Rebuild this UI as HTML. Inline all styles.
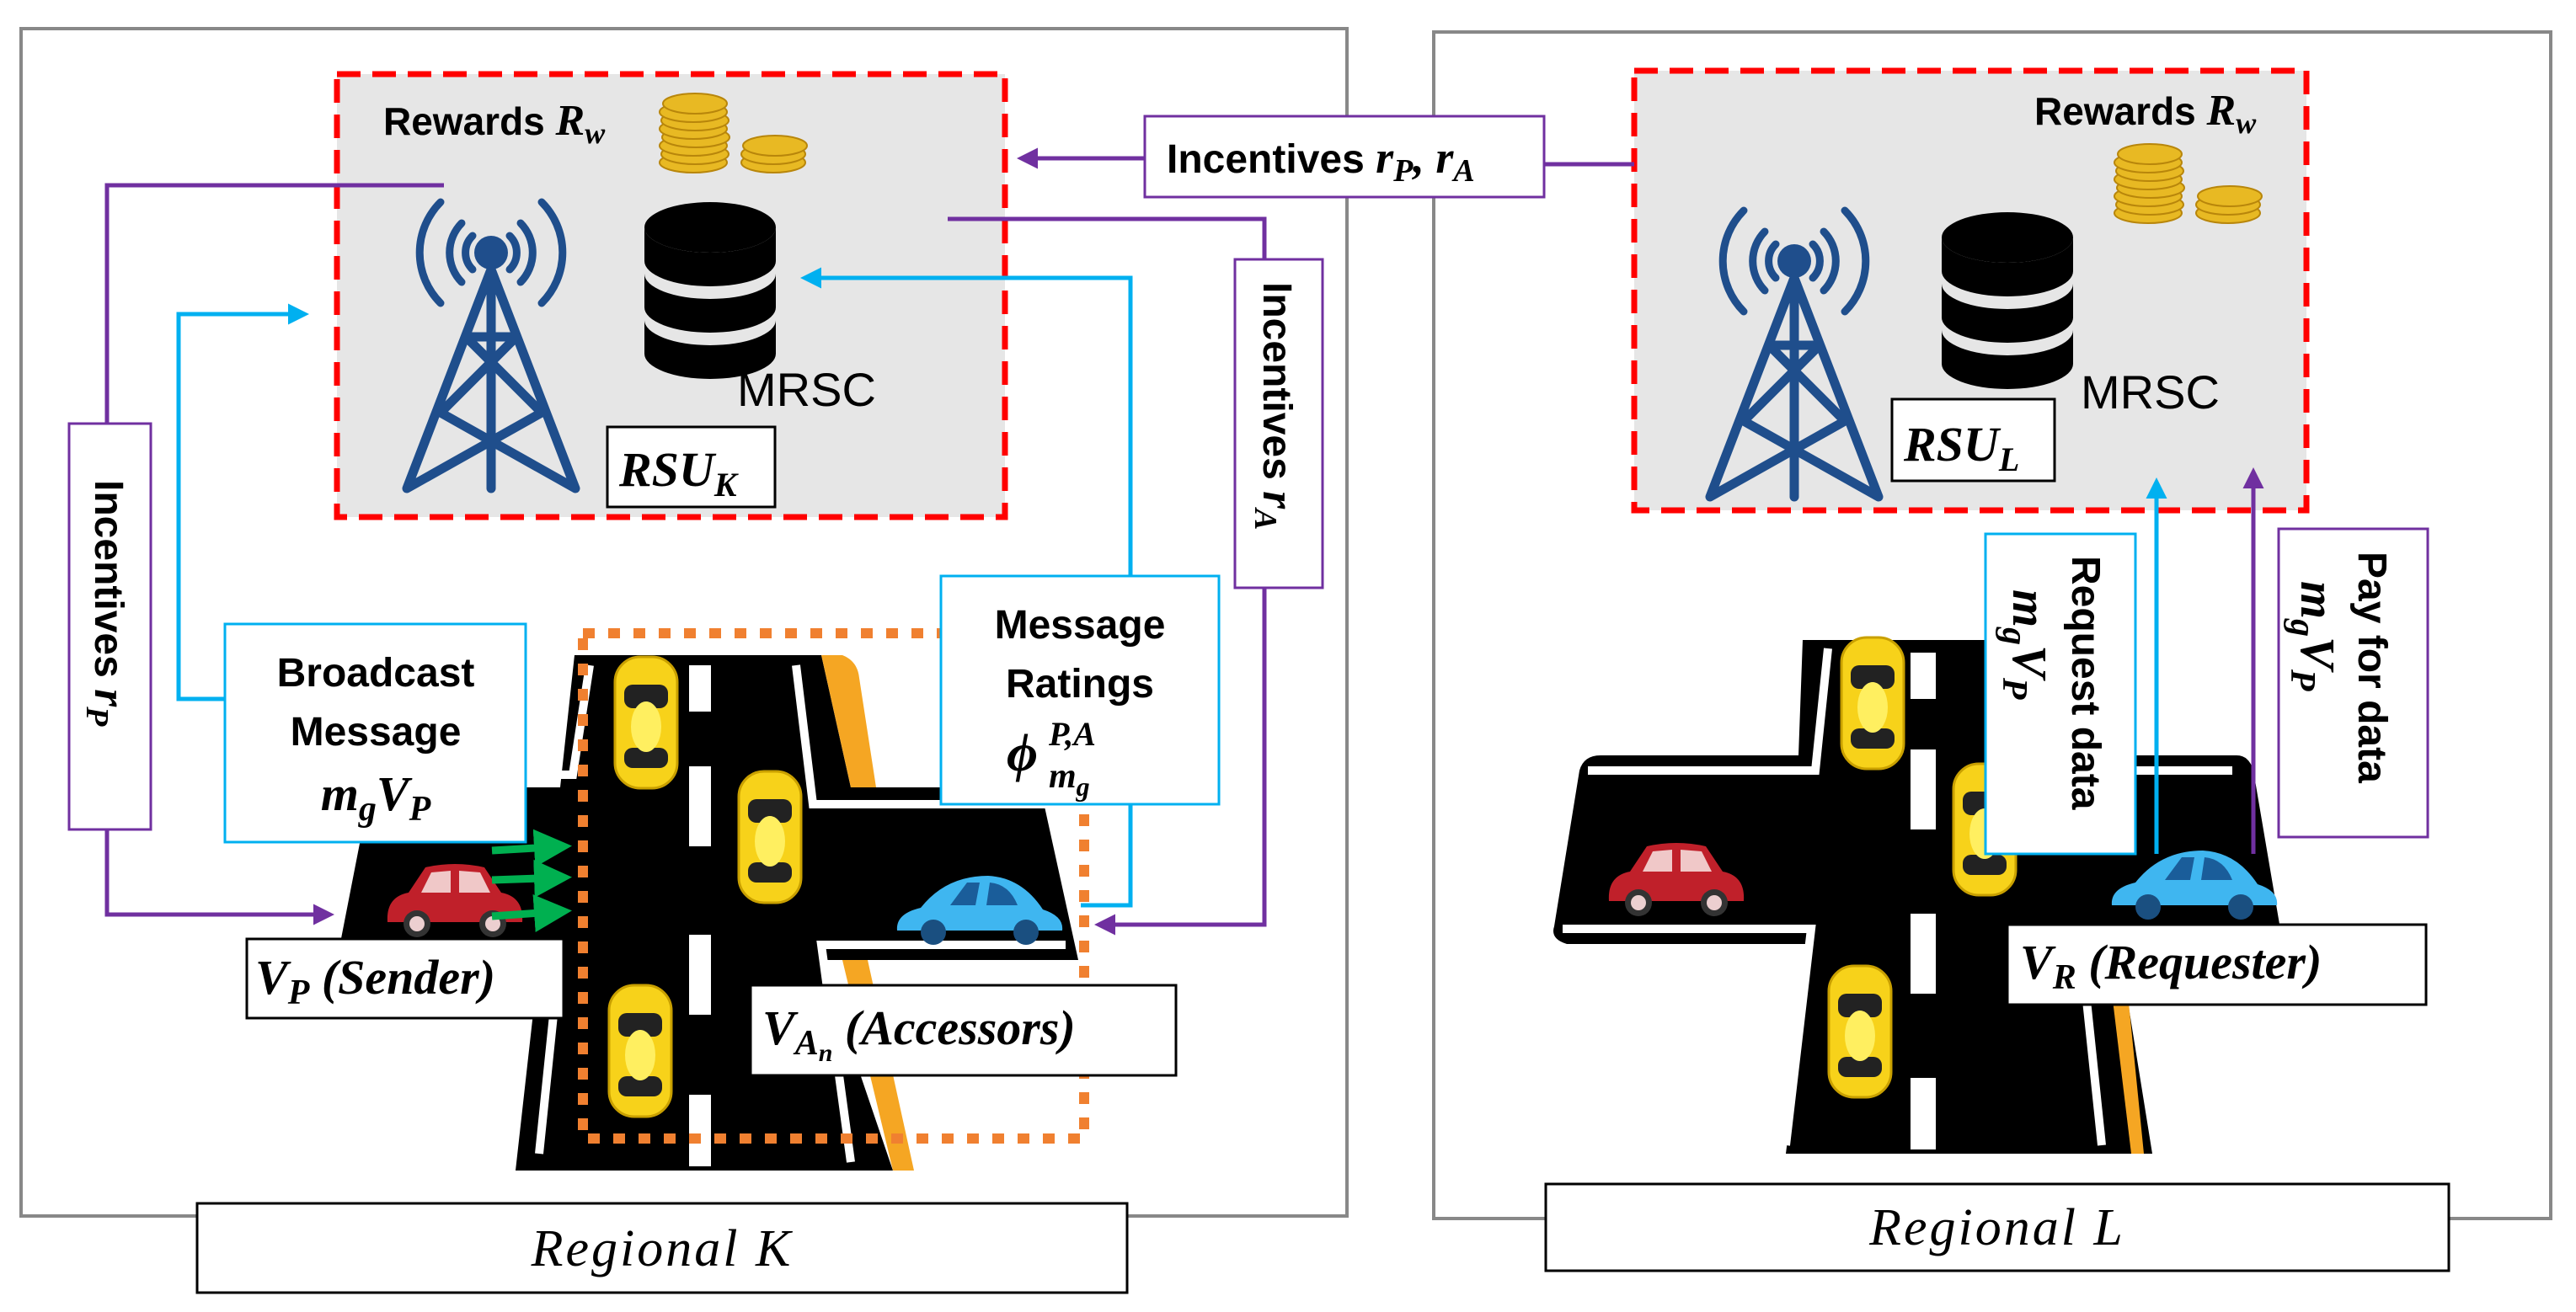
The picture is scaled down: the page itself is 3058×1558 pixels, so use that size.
<!DOCTYPE html>
<html><head><meta charset="utf-8"><style>
html,body{margin:0;padding:0;background:#fff}
svg{display:block}
.b{font-family:"Liberation Sans",sans-serif;font-weight:bold;fill:#000}
.m{font-family:"Liberation Serif",serif;font-weight:bold;font-style:italic;fill:#000}
.r{font-family:"Liberation Serif",serif;font-style:italic;fill:#000}
</style></head><body>
<svg width="3058" height="1558" viewBox="0 0 3058 1558" xmlns="http://www.w3.org/2000/svg">
<defs>
<marker id="ap" markerWidth="5" markerHeight="5" refX="4" refY="2.5" orient="auto" markerUnits="strokeWidth"><path d="M0,0 L5,2.5 L0,5 z" fill="#7030a0"/></marker>
<marker id="ab" markerWidth="5" markerHeight="5" refX="4" refY="2.5" orient="auto" markerUnits="strokeWidth"><path d="M0,0 L5,2.5 L0,5 z" fill="#00b0f0"/></marker>
<marker id="ag" markerWidth="5" markerHeight="5" refX="4" refY="2.5" orient="auto" markerUnits="strokeWidth"><path d="M0,0 L5,2.5 L0,5 z" fill="#00b050"/></marker>
<g id="tower" fill="none" stroke="#1f4e8c" stroke-width="11" stroke-linecap="round">
<circle cx="0" cy="0" r="20" fill="#1f4e8c" stroke="none"/>
<path d="M-35,-35 A50,50 0 0 0 -35,35 M35,-35 A50,50 0 0 1 35,35 M-60,-60 A85,85 0 0 0 -60,60 M60,-60 A85,85 0 0 1 60,60 M-22,-20 A28,28 0 0 0 -22,20 M22,-20 A28,28 0 0 1 22,20" stroke-width="9"/>
<path d="M0,20 L-100,280 M0,20 L100,280 M0,20 L0,280 M-30,100 L30,100 M-30,100 L60,190 M30,100 L-60,190 M-60,190 L100,280 M60,190 L-100,280"/>
</g>
<g id="db"><ellipse cx="0" cy="0" rx="78" ry="30" fill="#000"/><path d="M-78,0 v40 a78,30 0 0 0 156,0 v-40 a78,30 0 0 1 -156,0z" fill="#000"/>
<path d="M-78,55 v40 a78,30 0 0 0 156,0 v-40 a78,30 0 0 1 -156,0z" fill="#000"/><path d="M-78,110 v40 a78,30 0 0 0 156,0 v-40 a78,30 0 0 1 -156,0z" fill="#000"/></g>
<g id="coins">
<g fill="#e8b923" stroke="#b8860b" stroke-width="2">
<ellipse cx="0" cy="85" rx="40" ry="12"/><ellipse cx="2" cy="75" rx="40" ry="12"/><ellipse cx="0" cy="65" rx="40" ry="12"/><ellipse cx="3" cy="55" rx="40" ry="12"/><ellipse cx="0" cy="45" rx="40" ry="12"/><ellipse cx="2" cy="35" rx="40" ry="12"/><ellipse cx="0" cy="25" rx="40" ry="12"/><ellipse cx="2" cy="15" rx="38" ry="12"/>
<ellipse cx="95" cy="85" rx="38" ry="12"/><ellipse cx="95" cy="75" rx="38" ry="12"/><ellipse cx="97" cy="65" rx="38" ry="12"/></g></g>
<g id="ycar"><rect x="-37" y="-78" width="74" height="156" rx="30" fill="#f7d21a" stroke="#c9a000" stroke-width="3"/><rect x="-26" y="-45" width="52" height="28" rx="10" fill="#222"/><rect x="-26" y="30" width="52" height="24" rx="10" fill="#222"/><ellipse cx="0" cy="5" rx="18" ry="30" fill="#ffef60"/></g>
<g id="rcar"><path d="M-80,25 Q-82,-5 -55,-10 L-35,-40 Q0,-48 35,-40 L55,-10 Q82,-5 80,25 Z" fill="#c0202a"/><path d="M-28,-34 L-40,-10 L-5,-10 L-5,-36Z M5,-36 L5,-10 L42,-10 L30,-34Z" fill="#f0c8c8"/><circle cx="-45" cy="27" r="16" fill="#333"/><circle cx="-45" cy="27" r="9" fill="#eccfd0"/><circle cx="45" cy="27" r="16" fill="#333"/><circle cx="45" cy="27" r="9" fill="#eccfd0"/></g>
<g id="bcar"><path d="M-98,25 Q-100,5 -70,-2 Q-40,-40 10,-40 Q50,-38 75,0 Q100,8 98,25 Z" fill="#3fb6f0"/><path d="M-35,-5 L-15,-32 L0,-32 L-5,-5Z M8,-5 L12,-32 Q35,-30 45,-5Z" fill="#1a5d9a"/><circle cx="-55" cy="27" r="15" fill="#1a4f80"/><circle cx="55" cy="27" r="15" fill="#1a4f80"/></g>
</defs>

<rect x="25" y="34" width="1574" height="1410" fill="none" stroke="#888" stroke-width="4"/>
<rect x="1702" y="38" width="1326" height="1409" fill="none" stroke="#888" stroke-width="4"/>

<rect x="400" y="88" width="793" height="526" fill="#e6e6e6" stroke="#ff0000" stroke-width="7" stroke-dasharray="28,14"/>
<rect x="1940" y="84" width="798" height="522" fill="#e6e6e6" stroke="#ff0000" stroke-width="7" stroke-dasharray="28,14"/>

<text x="455" y="160" class="b" font-size="46">Rewards <tspan class="m" font-size="52">R</tspan><tspan class="m" font-size="36" dy="10">w</tspan></text>
<use href="#coins" x="823" y="108"/>
<use href="#tower" x="583" y="300"/>
<use href="#db" x="843" y="270"/>
<text x="875" y="482" font-family="Liberation Sans,sans-serif" font-size="56">MRSC</text>
<rect x="721" y="507" width="199" height="95" fill="#fff" stroke="#000" stroke-width="3"/>
<text x="735" y="577" class="m" font-size="58">RSU<tspan font-size="40" dy="12">K</tspan></text>

<text x="2415" y="148" class="b" font-size="46">Rewards <tspan class="m" font-size="52">R</tspan><tspan class="m" font-size="36" dy="10">w</tspan></text>
<use href="#coins" x="2550" y="168"/>
<use href="#tower" x="2130" y="310"/>
<use href="#db" x="2383" y="282"/>
<text x="2470" y="485" font-family="Liberation Sans,sans-serif" font-size="56">MRSC</text>
<rect x="2246" y="474" width="193" height="97" fill="#fff" stroke="#000" stroke-width="3"/>
<text x="2260" y="547" class="m" font-size="58">RSU<tspan font-size="40" dy="12">L</tspan></text>

<g>
<path d="M682,778 L975,778 L1010,935 L1235,935 L1280,1140 L975,1140 L1060,1390 L612,1390 L640,1140 L400,1140 L440,935 L665,935 Z" fill="#000"/>
<path d="M975,778 L1000,778 Q1018,785 1020,805 L1040,935 L1010,935 Z" fill="#f5a623"/>
<path d="M1000,1140 L1030,1140 L1085,1390 L1060,1390 Z" fill="#f5a623"/>
<path d="M700,790 L680,920 L460,920" fill="none" stroke="#fff" stroke-width="10"/>
<path d="M945,790 L965,955 L1245,955" fill="none" stroke="#fff" stroke-width="10"/>
<path d="M410,1128 L665,1128 L640,1370" fill="none" stroke="#fff" stroke-width="10"/>
<path d="M1265,1122 L975,1122 L1010,1380" fill="none" stroke="#fff" stroke-width="10"/>
<g fill="#fff"><rect x="818" y="790" width="26" height="55"/><rect x="818" y="910" width="26" height="95"/><rect x="818" y="1110" width="26" height="95"/><rect x="818" y="1300" width="26" height="85"/></g>
</g>
<use href="#ycar" x="767" y="858"/>
<use href="#ycar" x="914" y="994"/>
<use href="#ycar" x="760" y="1248"/>
<use href="#rcar" x="540" y="1070"/>
<use href="#bcar" x="1163" y="1080"/>
<rect x="692" y="752" width="595" height="600" fill="none" stroke="#f08030" stroke-width="12" stroke-dasharray="14,16"/>
<g stroke="#00b050" stroke-width="9" marker-end="url(#ag)"><line x1="584" y1="1010" x2="670" y2="1005"/><line x1="584" y1="1045" x2="670" y2="1042"/><line x1="584" y1="1088" x2="670" y2="1082"/></g>

<g>
<path d="M2140,760 L2500,760 L2510,897 L2655,897 Q2670,897 2675,915 L2710,1121 L2515,1121 L2555,1370 L2120,1370 L2150,1121 L1860,1121 Q1840,1115 1845,1100 L1875,915 Q1880,897 1900,897 L2135,897 Z" fill="#000"/>
<path d="M2500,1121 L2520,1121 L2545,1370 L2530,1370 Z" fill="#f5a623"/>
<path d="M2170,770 L2155,915 L1885,915" fill="none" stroke="#fff" stroke-width="10"/>
<path d="M1855,1103 L2150,1103 L2120,1360" fill="none" stroke="#fff" stroke-width="10"/>
<path d="M2470,1121 L2495,1360" fill="none" stroke="#fff" stroke-width="10"/>
<path d="M2480,915 L2650,915" fill="none" stroke="#fff" stroke-width="10"/>
<g fill="#fff"><rect x="2268" y="775" width="30" height="55"/><rect x="2268" y="890" width="30" height="95"/><rect x="2268" y="1085" width="30" height="95"/><rect x="2268" y="1280" width="30" height="85"/></g>
</g>
<use href="#ycar" x="2223" y="835"/>
<use href="#ycar" x="2356" y="985"/>
<use href="#ycar" x="2208" y="1225"/>
<use href="#rcar" x="1990" y="1045"/>
<use href="#bcar" x="2605" y="1050"/>

<g fill="none" stroke="#7030a0" stroke-width="5">
<path d="M527,220 L127,220 L127,503"/>
<path d="M127,985 L127,1086 L392,1086" marker-end="url(#ap)"/>
<path d="M1359,188 L1212,188" marker-end="url(#ap)"/>
<path d="M1833,195 L1940,195"/>
<path d="M1125,260 L1501,260 L1501,308"/>
<path d="M1501,698 L1501,1098 L1304,1098" marker-end="url(#ap)"/>
<path d="M2675,1014 L2675,560" marker-end="url(#ap)"/>
</g>
<g fill="none" stroke="#00b0f0" stroke-width="5">
<path d="M267,830 L212,830 L212,373 L362,373" marker-end="url(#ab)"/>
<path d="M1342,684 L1342,330 L955,330" marker-end="url(#ab)"/>
<path d="M1342,955 L1342,1075 L1283,1075"/>
<path d="M2560,1014 L2560,572" marker-end="url(#ab)"/>
</g>

<rect x="1359" y="138" width="474" height="96" fill="#fff" stroke="#7030a0" stroke-width="3"/>
<text x="1385" y="205" class="b" font-size="48">Incentives <tspan class="m" font-size="54">r</tspan><tspan class="m" font-size="38" dy="10">P</tspan><tspan class="m" font-size="54" dy="-10">, r</tspan><tspan class="m" font-size="38" dy="10">A</tspan></text>

<rect x="82" y="503" width="97" height="482" fill="#fff" stroke="#7030a0" stroke-width="3"/>
<text transform="translate(113,570) rotate(90)" class="b" font-size="48">Incentives  <tspan class="m" font-size="54">r</tspan><tspan class="m" font-size="38" dy="10">P</tspan></text>

<rect x="1466" y="308" width="104" height="390" fill="#fff" stroke="#7030a0" stroke-width="3"/>
<text transform="translate(1500,335) rotate(90)" class="b" font-size="48">Incentives  <tspan class="m" font-size="54">r</tspan><tspan class="m" font-size="38" dy="10">A</tspan></text>

<rect x="267" y="741" width="357" height="259" fill="#fff" stroke="#00b0f0" stroke-width="3"/>
<text x="446" y="815" class="b" font-size="48" text-anchor="middle">Broadcast</text>
<text x="446" y="885" class="b" font-size="48" text-anchor="middle">Message</text>
<text x="446" y="962" class="m" font-size="58" text-anchor="middle">m<tspan font-size="42" dy="12">g</tspan><tspan dy="-12">V</tspan><tspan font-size="42" dy="12">P</tspan></text>

<rect x="1117" y="684" width="330" height="271" fill="#fff" stroke="#00b0f0" stroke-width="3"/>
<text x="1282" y="758" class="b" font-size="48" text-anchor="middle">Message</text>
<text x="1282" y="828" class="b" font-size="48" text-anchor="middle">Ratings</text>
<text x="1195" y="915" class="m" font-size="64">ϕ</text>
<text x="1245" y="885" class="m" font-size="40">P,A</text>
<text x="1245" y="935" class="m" font-size="42">m<tspan font-size="32" dy="10">g</tspan></text>

<rect x="2357" y="634" width="178" height="380" fill="#fff" stroke="#00b0f0" stroke-width="3"/>
<text transform="translate(2460,660) rotate(90)" class="b" font-size="48">Request data</text>
<text transform="translate(2390,700) rotate(90)" class="m" font-size="58">m<tspan font-size="42" dy="12">g</tspan><tspan dy="-12">V</tspan><tspan font-size="42" dy="12">P</tspan></text>

<rect x="2705" y="628" width="177" height="366" fill="#fff" stroke="#7030a0" stroke-width="3"/>
<text transform="translate(2800,655) rotate(90)" class="b" font-size="48">Pay for data</text>
<text transform="translate(2732,690) rotate(90)" class="m" font-size="58">m<tspan font-size="42" dy="12">g</tspan><tspan dy="-12">V</tspan><tspan font-size="42" dy="12">P</tspan></text>

<rect x="293" y="1115" width="376" height="94" fill="#fff" stroke="#000" stroke-width="3"/>
<text x="303" y="1180" class="m" font-size="58">V<tspan font-size="42" dy="12">P</tspan><tspan dy="-12"> (Sender)</tspan></text>

<rect x="891" y="1170" width="505" height="107" fill="#fff" stroke="#000" stroke-width="3"/>
<text x="905" y="1240" class="m" font-size="58">V<tspan font-size="42" dy="12">A</tspan><tspan font-size="30" dy="8">n</tspan><tspan dy="-20">  (Accessors)</tspan></text>

<rect x="2383" y="1098" width="497" height="95" fill="#fff" stroke="#000" stroke-width="3"/>
<text x="2398" y="1162" class="m" font-size="58">V<tspan font-size="42" dy="12">R</tspan><tspan dy="-12"> (Requester)</tspan></text>

<rect x="234" y="1429" width="1104" height="106" fill="#fff" stroke="#000" stroke-width="3"/>
<text x="786" y="1503" class="r" font-size="62" text-anchor="middle" letter-spacing="3">Regional K</text>
<rect x="1835" y="1406" width="1072" height="103" fill="#fff" stroke="#000" stroke-width="3"/>
<text x="2371" y="1478" class="r" font-size="62" text-anchor="middle" letter-spacing="3">Regional L</text>
</svg>
</body></html>
